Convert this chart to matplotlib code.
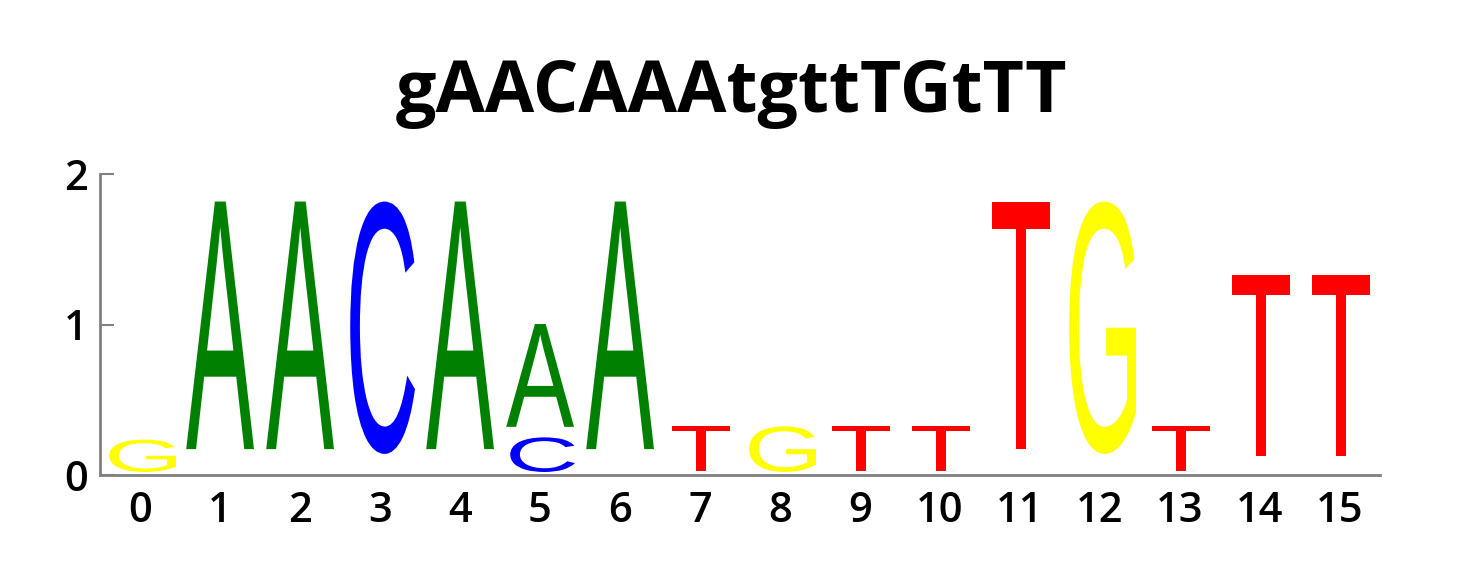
import matplotlib
matplotlib.use("Agg")
import matplotlib.pyplot as plt
from matplotlib.textpath import TextPath
from matplotlib.font_manager import FontProperties
from matplotlib.patches import PathPatch
from matplotlib.transforms import Affine2D

# consensus shown as title
title = "gAACAAAtgttTGtTT"

positions = list(range(16))

# each column: (letter, height) from the bottom up; '' = filler (small letters not drawn)
columns = [
    [("", 0.02), ("G", 0.215)],
    [("", 0.172), ("A", 1.645)],
    [("", 0.172), ("A", 1.645)],
    [("", 0.14), ("C", 1.677)],
    [("", 0.172), ("A", 1.645)],
    [("", 0.02), ("C", 0.23), ("", 0.07), ("A", 0.683)],
    [("", 0.172), ("A", 1.645)],
    [("", 0.026), ("T", 0.297)],
    [("", 0.02), ("G", 0.303)],
    [("", 0.026), ("T", 0.297)],
    [("", 0.026), ("T", 0.297)],
    [("", 0.172), ("T", 1.645)],
    [("", 0.14), ("G", 1.677)],
    [("", 0.026), ("T", 0.297)],
    [("", 0.125), ("T", 1.205)],
    [("", 0.125), ("T", 1.205)],
]

colors = {"A": "#008000", "C": "#0000ff", "G": "#ffff00", "T": "#ff0000"}
yticks = [0, 1, 2]

glyph_font = FontProperties(family="Liberation Sans")


def glyph(letter):
    p = TextPath((0, 0), letter, size=1, prop=glyph_font)
    v = p.vertices
    return p, v[:, 0].min(), v[:, 0].max(), v[:, 1].min(), v[:, 1].max()


# x scale is shared by all letters: an "A" fills 0.85 of a column
_, ax0, ax1, _, _ = glyph("A")
xscale = 0.85 / (ax1 - ax0)

fig = plt.figure(figsize=(14.8, 5.75), dpi=100)
ax = fig.add_axes([100 / 1480, 100 / 575, 1280 / 1480, 301 / 575])

for x, col in zip(positions, columns):
    y = 0.0
    for letter, h in col:
        if letter:
            p, x0, x1, y0, y1 = glyph(letter)
            w = (x1 - x0) * xscale
            tr = (Affine2D().translate(-x0, -y0)
                  .scale(xscale, h / (y1 - y0))
                  .translate(x - w / 2, y))
            ax.add_patch(PathPatch(tr.transform_path(p), fc=colors[letter],
                                   ec="none", lw=0))
        y += h

ax.set_xlim(-0.5, 15.5)
ax.set_ylim(0, 2)
ax.set_xticks(positions)
ax.set_yticks(yticks)
ax.tick_params(axis="x", length=0, pad=11, labelsize=30)
ax.tick_params(axis="y", direction="in", length=10, width=1.5, color="#808080",
               pad=9, labelsize=30)
for lab in ax.get_xticklabels() + ax.get_yticklabels():
    lab.set_fontfamily("Open Sans")
    lab.set_fontweight("semibold")
for s in ["top", "right"]:
    ax.spines[s].set_visible(False)
for s in ["left", "bottom"]:
    ax.spines[s].set_color("#808080")
    ax.spines[s].set_linewidth(2)

fig.text(731 / 1480, 1 - 112 / 575, title, ha="center", va="baseline",
         fontsize=51.5, fontweight="bold", family="Open Sans")

fig.savefig("out.png", dpi=100)
